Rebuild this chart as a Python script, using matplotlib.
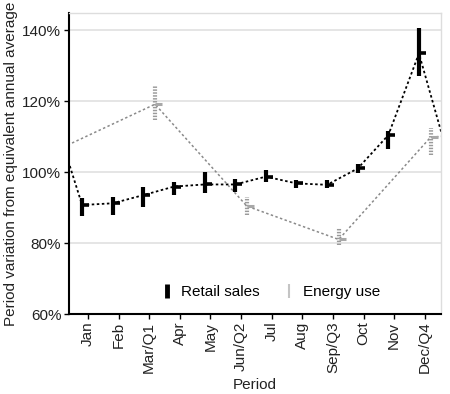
import numpy as np
import matplotlib
matplotlib.use("Agg")
import matplotlib.pyplot as plt
from matplotlib.lines import Line2D

# ============================================================
# Data
# ============================================================
periods = ["Jan", "Feb", "Mar/Q1", "Apr", "May", "Jun/Q2",
           "Jul", "Aug", "Sep/Q3", "Oct", "Nov", "Dec/Q4"]

retail_mid = [90.7, 91.2, 93.5, 95.9, 96.5, 96.5, 98.7, 96.8, 96.4, 101.0, 110.4, 133.4]
retail_lo = [87.7, 87.9, 90.2, 93.5, 94.2, 94.3, 97.1, 95.4, 95.4, 99.6, 106.5, 127.0]
retail_hi = [92.6, 93.0, 95.9, 97.3, 100.1, 97.9, 100.6, 97.7, 97.7, 102.2, 111.5, 140.5]
# neighbouring periods (previous Dec / next Jan), only partly visible
retail_prev = 118.0
retail_next = 103.0

energy_idx = [2, 5, 8, 11]
energy_mid = [119.1, 90.4, 81.0, 109.8]
energy_lo = [114.6, 87.9, 79.4, 104.8]
energy_hi = [124.5, 93.0, 84.1, 112.3]
energy_prev = 107.0
energy_next = 112.0

yticks = [60, 80, 100, 120, 140]

# ============================================================
# Plot
# ============================================================
plt.rcParams["font.family"] = ["Liberation Sans", "DejaVu Sans"]
plt.rcParams["font.size"] = 11

fig = plt.figure(figsize=(4.5, 3.94), dpi=100)
ax = fig.add_axes([0.1533, 0.203, 0.8267, 0.764])

x = np.arange(len(periods))
dodge = 0.19
xr = x - dodge
xe = np.array(energy_idx) + dodge

# grid
for v in yticks:
    ax.axhline(v, color="#e3e3e3", lw=1.3, zorder=0)

# retail line (with neighbour periods)
rx = np.concatenate([[xr[0] - 1], xr, [xr[-1] + 1]])
ry = np.concatenate([[retail_prev], retail_mid, [retail_next]])
ax.plot(rx, ry, color="black", lw=1.3, ls=(0, (1.4, 1.4)), zorder=2)

# energy line
ex = np.concatenate([[xe[0] - 3], xe, [xe[-1] + 3]])
ey = np.concatenate([[energy_prev], energy_mid, [energy_next]])
ax.plot(ex, ey, color="#8a8a8a", lw=1.1, ls=(0, (1.6, 1.6)), zorder=2)

# retail intervals
ax.vlines(xr, retail_lo, retail_hi, color="black", lw=3.0, zorder=3)
ax.plot(xr, retail_mid, ls="none", marker=1, ms=5, mew=2.6, color="black", zorder=3)

# energy intervals (striped)
ax.vlines(xe, energy_lo, energy_hi, color="#9a9a9a", lw=3.0,
          linestyles=[(0, (0.35, 0.35))], zorder=3)
ax.plot(xe, energy_mid, ls="none", marker=1, ms=5, mew=2.2, color="#a8a8a8", zorder=3)

ax.set_xlim(-0.62, 11.53)
ax.set_ylim(60, 144.8)
ax.set_xticks(x)
ax.set_xticklabels(periods, rotation=90, color="#222222")
ax.set_yticks(yticks)
ax.set_yticklabels([f"{v}%" for v in yticks], color="#222222")
ax.tick_params(axis="both", length=3.5, width=1, color="black", pad=2)

for s in ["left", "bottom"]:
    ax.spines[s].set_color("black")
    ax.spines[s].set_linewidth(1.5)
for s in ["top", "right"]:
    ax.spines[s].set_color("#dddddd")
    ax.spines[s].set_linewidth(1.0)

ax.set_xlabel("Period", color="#222222", labelpad=3)
ax.set_ylabel("Period variation from equivalent annual average", color="#222222", labelpad=3)

handles = [
    Line2D([], [], ls="none", marker="|", ms=10, mew=3.5, color="black"),
    Line2D([], [], ls="none", marker="|", ms=10, mew=1.5, color="#c4c4c4"),
]
ax.legend(handles, ["Retail sales", "Energy use"], loc="center",
          bbox_to_anchor=(0.54, 0.073), ncol=2, frameon=False,
          handlelength=1.0, handletextpad=0.4, columnspacing=1.4)

fig.savefig("out.png", dpi=100)
